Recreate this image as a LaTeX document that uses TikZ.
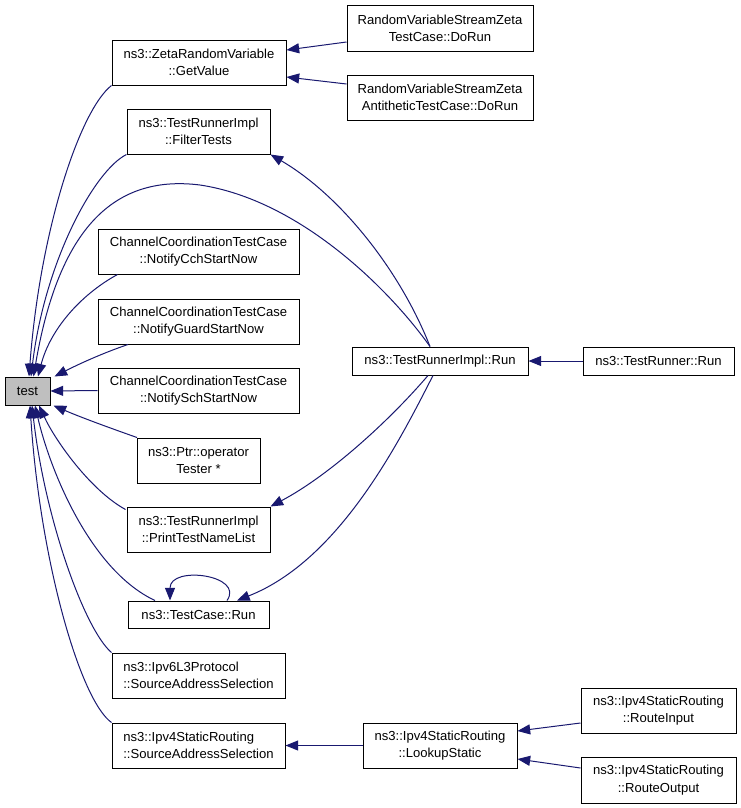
\documentclass[tikz,border=0pt]{standalone}
\usepackage{fontspec}
\setmainfont{Liberation Sans}
\usetikzlibrary{arrows.meta}
\definecolor{edgeblue}{HTML}{191970}
\definecolor{testgray}{HTML}{BFBFBF}
\tikzset{
  fn/.style={draw=black, line width=0.75pt, inner sep=0pt, align=center,
    font=\fontsize{9.8}{13}\selectfont, minimum height=33.75pt},
  fnone/.style={fn, minimum height=21pt},
  call/.style={draw=edgeblue, line width=0.75pt,
    -{Triangle[length=9.5pt,width=7.5pt]}}
}
\begin{document}
\begin{tikzpicture}[x=0.75pt,y=-0.75pt]
\useasboundingbox[fill=white] (0,0) rectangle (741,808);
% nodes
\node[fnone, fill=testgray, minimum width=33.75pt] (test) at (27.5,391) {test};
\node[fn, minimum width=130.5pt] (getv) at (199,62.5) {ns3::ZetaRandomVariable\\::GetValue};
\node[fn, minimum width=107.25pt] (filt) at (198.5,131.5) {ns3::TestRunnerImpl\\::FilterTests};
\node[fn, minimum width=150.75pt] (cch) at (198.5,251.5) {ChannelCoordinationTestCase\\::NotifyCchStartNow};
\node[fn, minimum width=150.75pt] (guard) at (198.5,321.5) {ChannelCoordinationTestCase\\::NotifyGuardStartNow};
\node[fn, minimum width=150.75pt] (sch) at (198.5,390.5) {ChannelCoordinationTestCase\\::NotifySchStartNow};
\node[fn, minimum width=92.25pt] (ptr) at (198.5,460.5) {ns3::Ptr::operator\\Tester *};
\node[fn, minimum width=107.25pt] (print) at (198.5,529.5) {ns3::TestRunnerImpl\\::PrintTestNameList};
\node[fnone, minimum width=105.75pt, minimum height=20.25pt] (tcrun) at (198.5,614.5) {ns3::TestCase::Run};
\node[fn, minimum width=129.75pt, align=left] (ipvsix) at (198.5,675.5) {ns3::Ipv6L3Protocol\\::SourceAddressSelection};
\node[fn, minimum width=129.75pt, align=left] (ipvfour) at (198.5,745.5) {ns3::Ipv4StaticRouting\\::SourceAddressSelection};
\node[fn, minimum width=139.5pt, minimum height=34.5pt] (zetaone) at (440,28) {RandomVariableStreamZeta\\TestCase::DoRun};
\node[fn, minimum width=139.5pt] (zetatwo) at (440,97.5) {RandomVariableStreamZeta\\AntitheticTestCase::DoRun};
\node[fnone, minimum width=132pt] (trirun) at (440,361) {ns3::TestRunnerImpl::Run};
\node[fnone, minimum width=113.25pt] (trun) at (658.5,361) {ns3::TestRunner::Run};
\node[fn, minimum width=115.5pt] (lookup) at (440,745.5) {ns3::Ipv4StaticRouting\\::LookupStatic};
\node[fn, minimum width=116.25pt] (rin) at (658.5,710.5) {ns3::Ipv4StaticRouting\\::RouteInput};
\node[fn, minimum width=116.25pt, minimum height=34.5pt] (rout) at (658.5,780) {ns3::Ipv4StaticRouting\\::RouteOutput};
% edges into test (top)
\draw[call] (getv.south west) .. controls (80,110) and (40,230) .. ([shift={(1.5,0)}]test.north);
\draw[call] (filt.south west) .. controls (95,170) and (45,260) .. ([shift={(3.5,0)}]test.north);
\draw[call] ([shift={(-10,0)}]trirun.north) .. controls (390,290) and (300,200) .. (200,185)
   .. controls (120,175) and (60,220) .. ([shift={(6,0)}]test.north);
\draw[call] ([shift={(-81,0)}]cch.south) .. controls (80,295) and (50,330) .. ([shift={(10.5,0)}]test.north);
\draw[call] ([shift={(-70.5,0)}]guard.south) .. controls (100,354) and (75,366) .. ([shift={(4,0)}]test.north east);
\draw[call] (sch.west) -- (test.east);
% edges into test (bottom)
\draw[call] ([shift={(-61.5,0)}]ptr.north) .. controls (110,428) and (80,417) .. ([shift={(3,0)}]test.south east);
\draw[call] ([shift={(-1,3)}]print.north west) .. controls (90,490) and (55,440) .. ([shift={(11.5,0)}]test.south);
\draw[call] ([shift={(-43.5,0)}]tcrun.north) .. controls (90,570) and (50,470) .. ([shift={(7.5,0)}]test.south);
\draw[call] (ipvsix.north west) .. controls (85,630) and (45,520) .. ([shift={(4.5,0)}]test.south);
\draw[call] (ipvfour.north west) .. controls (80,700) and (40,560) .. ([shift={(2.5,0)}]test.south);
% other edges
\draw[call] ([shift={(0,14)}]zetaone.west) -- ([shift={(0,-12.5)}]getv.east);
\draw[call] ([shift={(0,-13.5)}]zetatwo.west) -- ([shift={(0,14.5)}]getv.east);
\draw[call] ([shift={(-10,0)}]trirun.north) .. controls (400,270) and (340,195) .. (filt.south east);
\draw[call] ([shift={(-12,0)}]trirun.south) .. controls (390,420) and (330,475) .. (print.north east);
\draw[call] ([shift={(-7,0)}]trirun.south) .. controls (400,440) and (340,560) .. ([shift={(38.5,0)}]tcrun.north);
\draw[call] ([shift={(28.5,0)}]tcrun.north) .. controls (245,575) and (170,565) .. ([shift={(-28.5,0)}]tcrun.north);
\draw[call] (trun.west) -- (trirun.east);
\draw[call] (lookup.west) -- (ipvfour.east);
\draw[call] ([shift={(0,12.5)}]rin.west) -- ([shift={(0,-14.5)}]lookup.east);
\draw[call] ([shift={(0,-12)}]rout.west) -- ([shift={(0,13.5)}]lookup.east);
\end{tikzpicture}
\end{document}
